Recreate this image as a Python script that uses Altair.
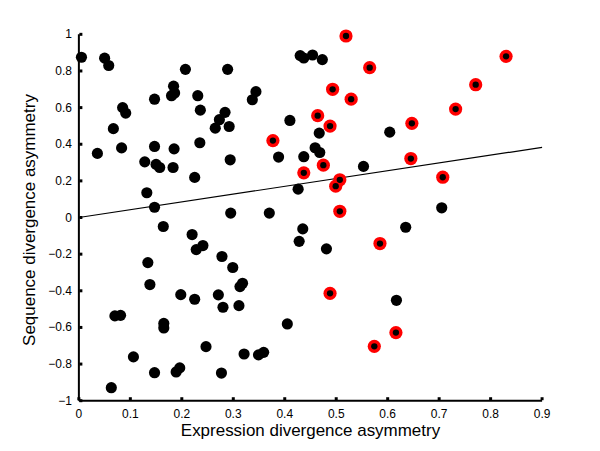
import altair as alt
import pandas as pd

black_x = [0.005, 0.05, 0.058, 0.036, 0.067, 0.085, 0.091, 0.083, 0.147, 0.128, 0.132, 0.147, 0.147, 0.15, 0.157,
           0.184, 0.18, 0.186, 0.185, 0.183, 0.207, 0.231, 0.236, 0.235, 0.225, 0.289, 0.284, 0.273, 0.265, 0.292,
           0.294, 0.295, 0.337, 0.344, 0.37, 0.41, 0.388, 0.43, 0.437, 0.454, 0.473, 0.437, 0.426, 0.467, 0.604,
           0.459, 0.468, 0.553, 0.705, 0.435, 0.428, 0.481, 0.635, 0.617, 0.164, 0.22, 0.228, 0.241, 0.278, 0.299,
           0.134, 0.138, 0.318, 0.313, 0.198, 0.225, 0.271, 0.28, 0.311, 0.07, 0.081, 0.165, 0.165, 0.405, 0.247,
           0.321, 0.349, 0.359, 0.106, 0.147, 0.189, 0.196, 0.277, 0.063]
black_y = [0.875, 0.87, 0.83, 0.35, 0.485, 0.6, 0.57, 0.38, 0.646, 0.304, 0.135, 0.056, 0.388, 0.29, 0.273,
           0.717, 0.665, 0.68, 0.375, 0.273, 0.809, 0.665, 0.586, 0.408, 0.219, 0.809, 0.574, 0.534, 0.488, 0.497,
           0.315, 0.024, 0.643, 0.687, 0.024, 0.53, 0.33, 0.884, 0.871, 0.887, 0.862, 0.332, 0.155, 0.461, 0.466,
           0.381, 0.355, 0.279, 0.053, -0.062, -0.13, -0.171, -0.053, -0.452, -0.049, -0.093, -0.175, -0.153, -0.213, -0.273,
           -0.246, -0.366, -0.359, -0.377, -0.421, -0.446, -0.422, -0.49, -0.481, -0.537, -0.534, -0.578, -0.603, -0.581, -0.705,
           -0.745, -0.75, -0.736, -0.761, -0.847, -0.843, -0.821, -0.849, -0.929]

red_x = [0.377, 0.437, 0.519, 0.565, 0.493, 0.529, 0.83, 0.771, 0.732, 0.464, 0.488, 0.647, 0.645, 0.475,
         0.507, 0.499, 0.707, 0.507, 0.585, 0.488, 0.616, 0.574]
red_y = [0.42, 0.244, 0.991, 0.818, 0.7, 0.646, 0.88, 0.725, 0.592, 0.556, 0.499, 0.514, 0.322, 0.286,
         0.206, 0.171, 0.22, 0.034, -0.142, -0.414, -0.628, -0.703]

fit_x = [0.0, 0.9]
fit_y = [0.0, 0.383]

x_ticks = [0, 0.1, 0.2, 0.3, 0.4, 0.5, 0.6, 0.7, 0.8, 0.9]
y_ticks = [-1, -0.8, -0.6, -0.4, -0.2, 0, 0.2, 0.4, 0.6, 0.8, 1]

x_title = "Expression divergence asymmetry"
y_title = "Sequence divergence asymmetry"

black = pd.DataFrame({"x": black_x, "y": black_y})
red = pd.DataFrame({"x": red_x, "y": red_y})
fit = pd.DataFrame({"x": fit_x, "y": fit_y})
xt = pd.DataFrame({"x": x_ticks, "y": [-1.0] * len(x_ticks)})
yt = pd.DataFrame({"y": y_ticks, "x": [0.0] * len(y_ticks)})
xdom = pd.DataFrame({"x": [0.0], "x2": [0.9], "y": [-1.0]})
ydom = pd.DataFrame({"x": [0.0], "y": [-1.0], "y2": [1.0]})
ytitle_df = pd.DataFrame({"t": [y_title]})

FONT = "Liberation Sans"
xs = alt.Scale(domain=[0, 0.9], nice=False, zero=False)
ys = alt.Scale(domain=[-1, 1], nice=False, zero=False)


def X(f="x"):
    return alt.X(f + ":Q", scale=xs, axis=None)


def Y(f="y"):
    return alt.Y(f + ":Q", scale=ys, axis=None)


line = alt.Chart(fit).mark_line(color="black", strokeWidth=1.2).encode(x=X(), y=Y())
xd = alt.Chart(xdom).mark_rule(color="black", strokeWidth=2).encode(x=X(), x2="x2:Q", y=Y())
yd = alt.Chart(ydom).mark_rule(color="black", strokeWidth=2).encode(y=Y(), y2="y2:Q", x=X())
xtk = alt.Chart(xt).mark_point(shape="square", filled=True, color="black", opacity=1, size=9, yOffset=-2).encode(
    x=X(), y=Y())
ytk = alt.Chart(yt).mark_point(shape="square", filled=True, color="black", opacity=1, size=9, xOffset=2).encode(
    x=X(), y=Y())
xlab = alt.Chart(xt).mark_text(font=FONT, fontSize=12, color="black", baseline="top", dy=8).encode(
    x=X(), y=Y(), text=alt.Text("x:Q", format=".1~f"))
ylab = alt.Chart(yt).mark_text(font=FONT, fontSize=12, color="black", align="right", baseline="middle", dx=-7).encode(
    x=X(), y=Y(), text=alt.Text("y:Q", format=".1~f"))
ytitle = alt.Chart(ytitle_df).mark_text(font=FONT, fontSize=17, color="black", angle=270,
                                        align="center", baseline="middle").encode(
    x=alt.value(-49), y=alt.value(186), text="t:N")
bpts = alt.Chart(black).mark_circle(color="black", opacity=1, size=125).encode(x=X(), y=Y())
rout = alt.Chart(red).mark_circle(color="#ff0000", opacity=1, size=175).encode(x=X(), y=Y())
rin = alt.Chart(red).mark_circle(color="black", opacity=1, size=40).encode(x=X(), y=Y())

chart = alt.layer(line, xd, yd, xtk, ytk, xlab, ylab, ytitle, bpts, rout, rin).properties(
    width=464, height=367,
    title=alt.TitleParams(x_title, orient="bottom", offset=3, font=FONT, fontSize=17,
                          fontWeight="normal", color="black"),
    autosize=alt.AutoSizeParams(type="none"),
    padding={"left": 71, "top": 26, "right": 50, "bottom": 50},
    background="white",
).configure_view(stroke=None)

chart.save("out.html", embed_options={"renderer": "svg", "actions": False})
